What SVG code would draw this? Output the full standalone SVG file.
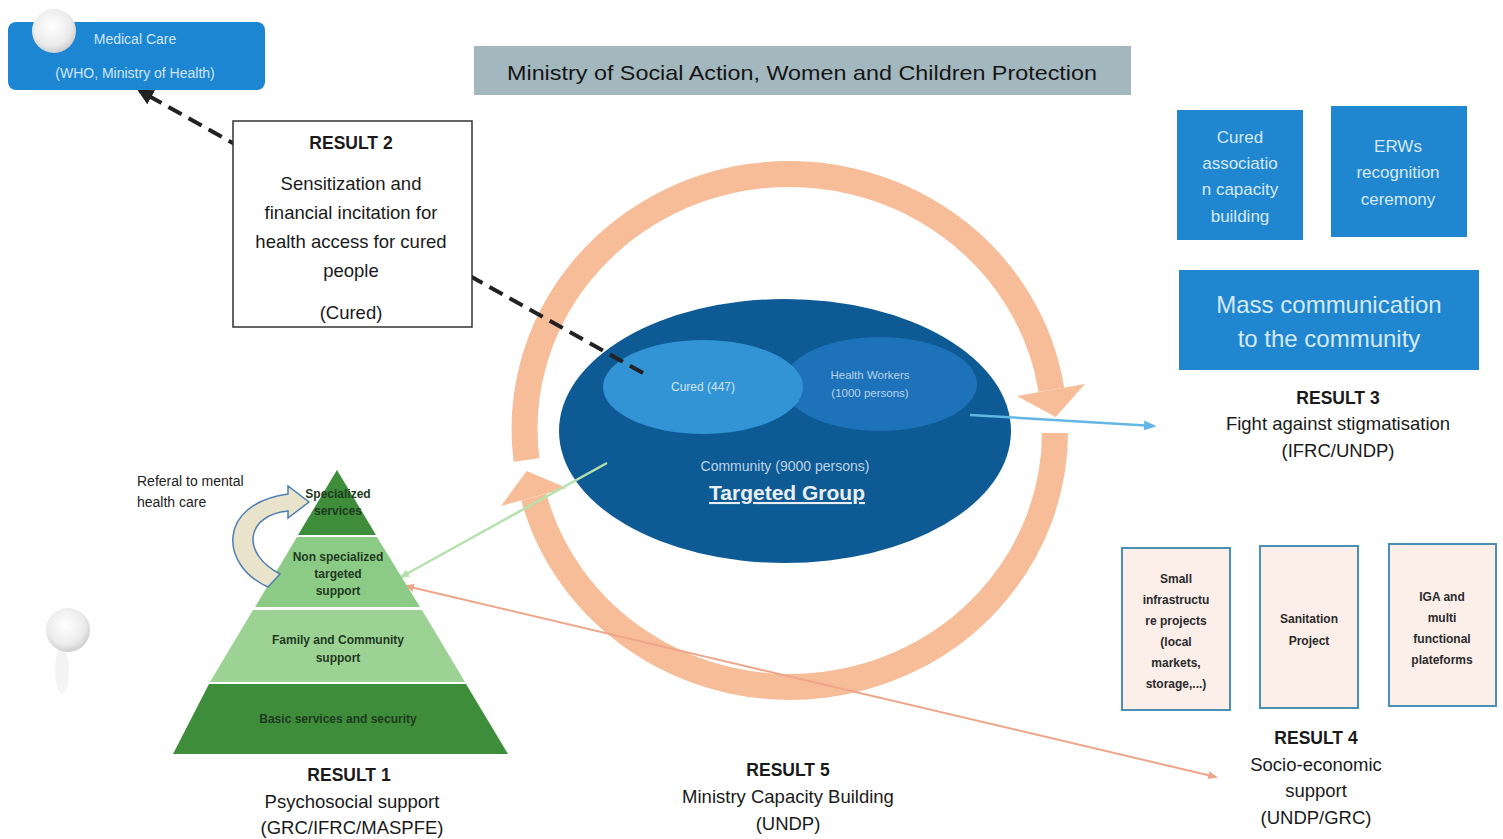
<svg xmlns="http://www.w3.org/2000/svg" width="1503" height="839" viewBox="0 0 1503 839">
<style>
text{font-family:"Liberation Sans",Arial,sans-serif;text-anchor:middle}
.res{font-size:17.5px;font-weight:bold;fill:#1a1a1a}
.dsc{font-size:18.5px;fill:#1a1a1a}
.bw{font-size:17px;fill:#d6e9f8}
.pk{font-size:12px;font-weight:bold;fill:#2a2a2a}
.py{font-size:12px;font-weight:bold;fill:#1f3a1f}
.bluebox{fill:#1F86CF}
.pinkbox{fill:#FCEFEA;stroke:#4A8FB4;stroke-width:2}
.ring{fill:none;stroke:#F7BD98;stroke-width:26}
</style>
<defs>
<radialGradient id="hole" cx="0.45" cy="0.4" r="0.6">
<stop offset="0" stop-color="#ffffff"/><stop offset="0.7" stop-color="#ececec"/><stop offset="1" stop-color="#cfcfcf"/>
</radialGradient>
<marker id="dashHead" viewBox="0 0 10 10" refX="8" refY="5" markerWidth="4" markerHeight="4" orient="auto-start-reverse">
<path d="M0,0 L10,5 L0,10 z" fill="#222"/>
</marker>
<marker id="blueHead" viewBox="0 0 10 10" refX="8" refY="5" markerWidth="5" markerHeight="5" orient="auto">
<path d="M0,1 L10,5 L0,9 z" fill="#63B7E6"/>
</marker>
<marker id="salHead" viewBox="0 0 10 10" refX="8" refY="5" markerWidth="5" markerHeight="5" orient="auto-start-reverse">
<path d="M0,1 L10,5 L0,9 z" fill="#EFA58A"/>
</marker>
<marker id="grnHead" viewBox="0 0 10 10" refX="8" refY="5" markerWidth="4" markerHeight="4" orient="auto-start-reverse">
<path d="M0,1 L10,5 L0,9 z" fill="#B5E1AD"/>
</marker>
</defs>
<rect width="1503" height="839" fill="#ffffff"/>

<g id="ring">
<path class="ring" d="M 526.5 460 A 265 255 0 0 1 1051.4 389.9"/>
<polygon points="1085,384 1017,396 1055.6,417" fill="#F7BD98"/>
<path class="ring" d="M 1055 433 A 265 255 0 0 1 533.8 497.1"/>
<polygon points="567,488 501,506 526.6,471" fill="#F7BD98"/>
</g>

<g id="ministry">
<rect x="474" y="46" width="657" height="49" fill="#A3B7BE"/>
<text x="802" y="80" style="font-size:21px;fill:#151515" textLength="590" lengthAdjust="spacingAndGlyphs">Ministry of Social Action, Women and Children Protection</text>
</g>

<g id="targeted-group">
<ellipse cx="785" cy="431" rx="226" ry="132" fill="#0E5A95"/>
<ellipse cx="880" cy="384" rx="97" ry="47" fill="#1E72BA"/>
<ellipse cx="703" cy="387" rx="100" ry="47" fill="#3294D4"/>
<text x="703" y="391" style="font-size:12px;fill:#cfe3f3">Cured (447)</text>
<text x="870" y="379" style="font-size:11.5px;fill:#b9d4ea">Health Workers</text>
<text x="870" y="397" style="font-size:11.5px;fill:#b9d4ea">(1000 persons)</text>
<text x="785" y="471" style="font-size:14px;fill:#bcd3e6">Community (9000 persons)</text>
<text x="787" y="500" style="font-size:21px;font-weight:bold;fill:#e8eff6;text-decoration:underline">Targeted Group</text>
</g>

<g id="connectors">
<line x1="643" y1="373" x2="140" y2="91" stroke="#222" stroke-width="4" stroke-dasharray="15,8" marker-end="url(#dashHead)"/>
<line x1="970" y1="415" x2="1154" y2="426" stroke="#63B7E6" stroke-width="2.5" marker-end="url(#blueHead)"/>
<line x1="607" y1="463" x2="401" y2="577" stroke="#B5E1AD" stroke-width="2.5" marker-end="url(#grnHead)"/>
<line x1="406" y1="586" x2="1216" y2="777" stroke="#EFA58A" stroke-width="2" marker-start="url(#salHead)" marker-end="url(#salHead)"/>
</g>

<g id="medical-care">
<rect x="8" y="22" width="257" height="68" rx="8" fill="#1D86D3"/>
<text x="135" y="44" style="font-size:14px;fill:#cfe5f7">Medical Care</text>
<text x="135" y="78" style="font-size:14px;fill:#cfe5f7">(WHO, Ministry of Health)</text>
</g>

<g id="result2">
<rect x="233" y="121" width="239" height="206" fill="#ffffff" stroke="#333" stroke-width="1.5"/>
<text class="res" x="351" y="149">RESULT 2</text>
<text class="dsc" x="351" y="190">Sensitization and</text>
<text class="dsc" x="351" y="219">financial incitation for</text>
<text class="dsc" x="351" y="248">health access for cured</text>
<text class="dsc" x="351" y="277">people</text>
<text class="dsc" x="351" y="319">(Cured)</text>
</g>

<g id="result3">
<rect class="bluebox" x="1177" y="110" width="126" height="130"/>
<text class="bw" x="1240" y="143">Cured</text>
<text class="bw" x="1240" y="169">associatio</text>
<text class="bw" x="1240" y="195">n capacity</text>
<text class="bw" x="1240" y="222">building</text>
<rect class="bluebox" x="1331" y="106" width="136" height="131"/>
<text class="bw" x="1398" y="152">ERWs</text>
<text class="bw" x="1398" y="178">recognition</text>
<text class="bw" x="1398" y="205">ceremony</text>
<rect class="bluebox" x="1179" y="270" width="300" height="100"/>
<text x="1329" y="313" style="font-size:24px;fill:#d6e9f8">Mass communication</text>
<text x="1329" y="347" style="font-size:24px;fill:#d6e9f8">to the community</text>
<text class="res" x="1338" y="404">RESULT 3</text>
<text class="dsc" x="1338" y="430">Fight against stigmatisation</text>
<text class="dsc" x="1338" y="457">(IFRC/UNDP)</text>
</g>

<g id="result4">
<rect class="pinkbox" x="1122" y="548" width="108" height="162"/>
<text class="pk" x="1176" y="583">Small</text>
<text class="pk" x="1176" y="604">infrastructu</text>
<text class="pk" x="1176" y="625">re projects</text>
<text class="pk" x="1176" y="646">(local</text>
<text class="pk" x="1176" y="667">markets,</text>
<text class="pk" x="1176" y="688">storage,...)</text>
<rect class="pinkbox" x="1260" y="546" width="98" height="162"/>
<text class="pk" x="1309" y="623">Sanitation</text>
<text class="pk" x="1309" y="645">Project</text>
<rect class="pinkbox" x="1389" y="544" width="107" height="162"/>
<text class="pk" x="1442" y="601">IGA and</text>
<text class="pk" x="1442" y="622">multi</text>
<text class="pk" x="1442" y="643">functional</text>
<text class="pk" x="1442" y="664">plateforms</text>
<text class="res" x="1316" y="744">RESULT 4</text>
<text class="dsc" x="1316" y="771">Socio-economic</text>
<text class="dsc" x="1316" y="797">support</text>
<text class="dsc" x="1316" y="824">(UNDP/GRC)</text>
</g>

<g id="result1">
<polygon points="337,470 376,535 298,535" fill="#3E8D3B"/>
<polygon points="297,537 377,537 420,607 255,607" fill="#8CCB86"/>
<polygon points="253,610 422,610 465,682 210,682" fill="#9CD394"/>
<polygon points="209,684 466,684 508,754 173,754" fill="#3E8D3B"/>
<text class="py" x="338" y="498">Specialized</text>
<text class="py" x="338" y="515">services</text>
<text class="py" x="338" y="561">Non specialized</text>
<text class="py" x="338" y="578">targeted</text>
<text class="py" x="338" y="595">support</text>
<text class="py" x="338" y="644">Family and Community</text>
<text class="py" x="338" y="662">support</text>
<text class="py" x="338" y="723">Basic services and security</text>
<path d="M 268 587 C 220 566, 216 504, 288 494 L 288 486 L 309 502 L 288 518 L 288 511 C 246 515, 240 553, 280 574 Z" fill="#E9E3CC" stroke="#4E7FB0" stroke-width="1.5"/>
<text x="137" y="486" style="font-size:14px;fill:#222;text-anchor:start">Referal to mental</text>
<text x="137" y="507" style="font-size:14px;fill:#222;text-anchor:start">health care</text>
<text class="res" x="349" y="781">RESULT 1</text>
<text class="dsc" x="352" y="808">Psychosocial support</text>
<text class="dsc" x="352" y="834">(GRC/IFRC/MASPFE)</text>
</g>

<g id="result5">
<text class="res" x="788" y="776">RESULT 5</text>
<text class="dsc" x="788" y="803">Ministry Capacity Building</text>
<text class="dsc" x="788" y="830">(UNDP)</text>
</g>

<g id="scan-marks">
<circle cx="54" cy="31" r="22" fill="url(#hole)"/>
<ellipse cx="62" cy="670" rx="7" ry="24" fill="#f4f4f4"/>
<circle cx="68" cy="630" r="22" fill="url(#hole)"/>
</g>
</svg>
